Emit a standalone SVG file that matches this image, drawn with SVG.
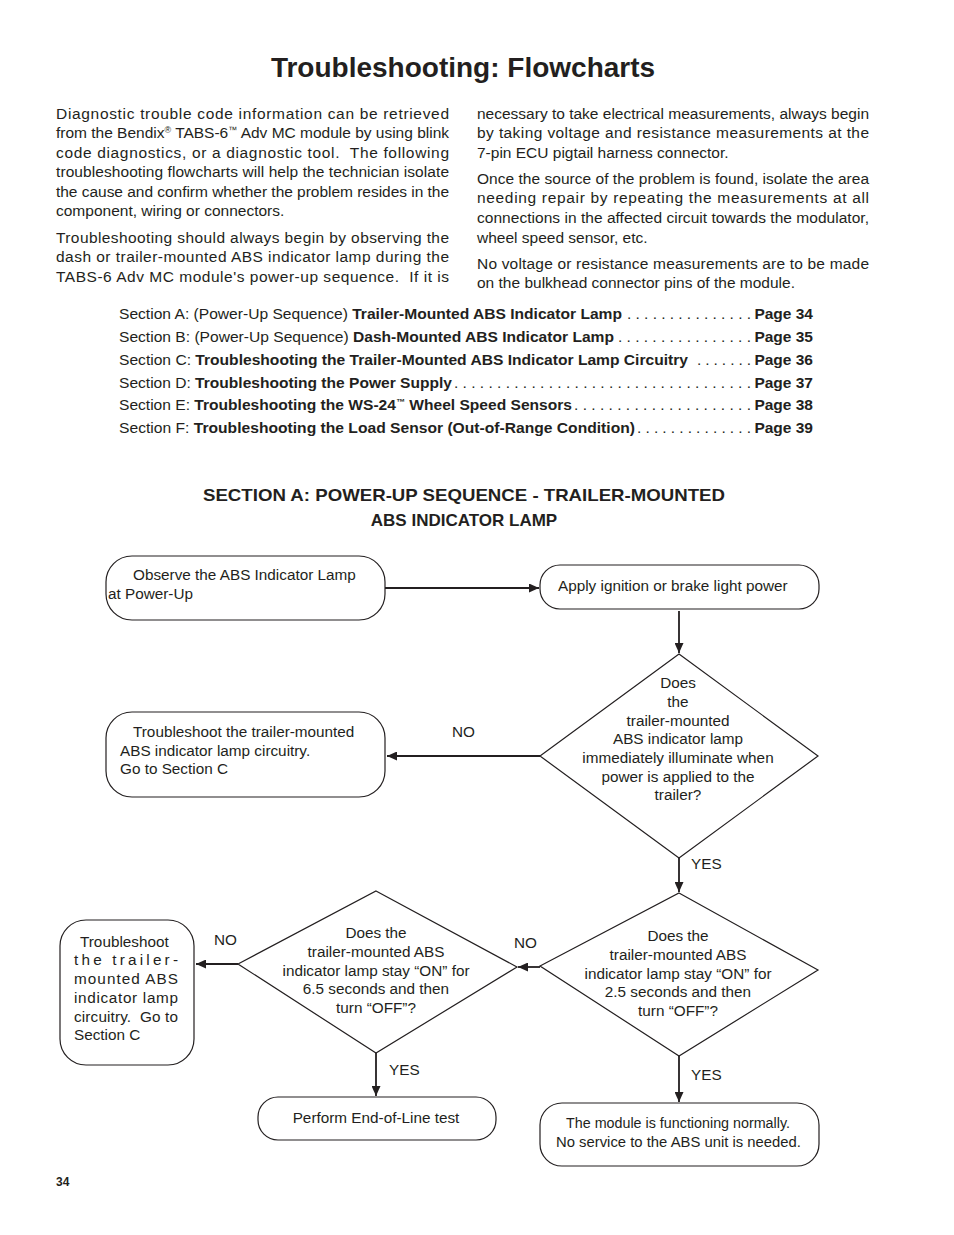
<svg xmlns="http://www.w3.org/2000/svg" width="954" height="1235" viewBox="0 0 954 1235">
<defs>
<marker id="ah" markerUnits="userSpaceOnUse" markerWidth="11" markerHeight="9" refX="10" refY="4.5" orient="auto">
<path d="M0,0 L10,4.5 L0,9 z" fill="#231f20"/>
</marker>
<style>
text{font-family:"Liberation Sans",Arial,sans-serif;fill:#231f20}
.b{font-size:15.5px}
.t{font-size:15.5px}
.f{font-size:15.3px}
.bold{font-weight:bold}
.sup{font-size:9px}
.pre{white-space:pre}
.shape{fill:#fff;stroke:#231f20;stroke-width:1.2}
.conn line{stroke:#231f20;stroke-width:1.8;marker-end:url(#ah)}
.lbl{font-size:15.3px}
</style>
</defs>
<rect width="954" height="1235" fill="#fff"/>

<text x="463" y="77" text-anchor="middle" font-size="28" font-weight="bold">Troubleshooting: Flowcharts</text>

<g id="intro-left" class="b">
<text x="56" y="119" textLength="393" lengthAdjust="spacing">Diagnostic trouble code information can be retrieved</text>
<text x="56" y="138" textLength="393" lengthAdjust="spacing">from the Bendix<tspan class="sup" dy="-5">®</tspan><tspan dy="5"> TABS-6</tspan><tspan class="sup" dy="-5">™</tspan><tspan dy="5"> Adv MC module by using blink</tspan></text>
<text x="56" y="158" class="pre" textLength="393" lengthAdjust="spacing">code diagnostics, or a diagnostic tool.  The following</text>
<text x="56" y="177" textLength="393" lengthAdjust="spacing">troubleshooting flowcharts will help the technician isolate</text>
<text x="56" y="197" textLength="393" lengthAdjust="spacing">the cause and confirm whether the problem resides in the</text>
<text x="56" y="216">component, wiring or connectors.</text>
<text x="56" y="243" textLength="393" lengthAdjust="spacing">Troubleshooting should always begin by observing the</text>
<text x="56" y="262" textLength="393" lengthAdjust="spacing">dash or trailer-mounted ABS indicator lamp during the</text>
<text x="56" y="282" class="pre" textLength="393" lengthAdjust="spacing">TABS-6 Adv MC module's power-up sequence.  If it is</text>
</g>

<g id="intro-right" class="b">
<text x="477" y="119" textLength="392" lengthAdjust="spacing">necessary to take electrical measurements, always begin</text>
<text x="477" y="138" textLength="392" lengthAdjust="spacing">by taking voltage and resistance measurements at the</text>
<text x="477" y="158">7-pin ECU pigtail harness connector.</text>
<text x="477" y="184" textLength="392" lengthAdjust="spacing">Once the source of the problem is found, isolate the area</text>
<text x="477" y="203" textLength="392" lengthAdjust="spacing">needing repair by repeating the measurements at all</text>
<text x="477" y="223" textLength="392" lengthAdjust="spacing">connections in the affected circuit towards the modulator,</text>
<text x="477" y="243">wheel speed sensor, etc.</text>
<text x="477" y="269" textLength="392" lengthAdjust="spacing">No voltage or resistance measurements are to be made</text>
<text x="477" y="288">on the bulkhead connector pins of the module.</text>
</g>

<g id="toc" class="t">
<text x="119" y="319" textLength="503" lengthAdjust="spacingAndGlyphs">Section A: (Power-Up Sequence) <tspan class="bold">Trailer-Mounted ABS Indicator Lamp</tspan></text>
<text x="627" y="319" textLength="124" lengthAdjust="spacing">. . . . . . . . . . . . . . .</text>
<text x="813" y="319" text-anchor="end" class="bold">Page 34</text>

<text x="119" y="342" textLength="495" lengthAdjust="spacingAndGlyphs">Section B: (Power-Up Sequence) <tspan class="bold">Dash-Mounted ABS Indicator Lamp</tspan></text>
<text x="618" y="342" textLength="133" lengthAdjust="spacing">. . . . . . . . . . . . . . . .</text>
<text x="813" y="342" text-anchor="end" class="bold">Page 35</text>

<text x="119" y="365" textLength="569" lengthAdjust="spacingAndGlyphs">Section C: <tspan class="bold">Troubleshooting the Trailer-Mounted ABS Indicator Lamp Circuitry</tspan></text>
<text x="697" y="365" textLength="54" lengthAdjust="spacing">. . . . . . .</text>
<text x="813" y="365" text-anchor="end" class="bold">Page 36</text>

<text x="119" y="388" textLength="333" lengthAdjust="spacingAndGlyphs">Section D: <tspan class="bold">Troubleshooting the Power Supply</tspan></text>
<text x="454" y="388" textLength="297" lengthAdjust="spacing">. . . . . . . . . . . . . . . . . . . . . . . . . . . . . . . . . . .</text>
<text x="813" y="388" text-anchor="end" class="bold">Page 37</text>

<text x="119" y="410" textLength="453" lengthAdjust="spacingAndGlyphs">Section E: <tspan class="bold">Troubleshooting the WS-24<tspan class="sup" dy="-5">™</tspan><tspan dy="5"> Wheel Speed Sensors</tspan></tspan></text>
<text x="574" y="410" textLength="177" lengthAdjust="spacing">. . . . . . . . . . . . . . . . . . . . .</text>
<text x="813" y="410" text-anchor="end" class="bold">Page 38</text>

<text x="119" y="433" textLength="516" lengthAdjust="spacingAndGlyphs">Section F: <tspan class="bold">Troubleshooting the Load Sensor (Out-of-Range Condition)</tspan></text>
<text x="637" y="433" textLength="114" lengthAdjust="spacing">. . . . . . . . . . . . . .</text>
<text x="813" y="433" text-anchor="end" class="bold">Page 39</text>
</g>

<g id="section-heading" font-weight="bold" font-size="17">
<text x="464" y="501" text-anchor="middle" textLength="522" lengthAdjust="spacingAndGlyphs">SECTION A: POWER-UP SEQUENCE - TRAILER-MOUNTED</text>
<text x="464" y="526" text-anchor="middle">ABS INDICATOR LAMP</text>
</g>

<g id="connectors" class="conn">
<line x1="385" y1="588" x2="539" y2="588"/>
<line x1="679" y1="611" x2="679" y2="653"/>
<line x1="540" y1="756" x2="387" y2="756"/>
<line x1="679" y1="858" x2="679" y2="892"/>
<line x1="540" y1="967" x2="518" y2="967"/>
<line x1="238" y1="964" x2="196" y2="964"/>
<line x1="376" y1="1053" x2="376" y2="1096"/>
<line x1="679" y1="1056" x2="679" y2="1102"/>
</g>

<g id="connector-labels" class="lbl">
<text x="452" y="737">NO</text>
<text x="691" y="869">YES</text>
<text x="514" y="948">NO</text>
<text x="214" y="945">NO</text>
<text x="389" y="1075">YES</text>
<text x="691" y="1080">YES</text>
</g>

<g id="n-observe" class="f">
<rect class="shape" x="106" y="556" width="279" height="64" rx="26" ry="26"/>
<text x="133" y="580">Observe the ABS Indicator Lamp</text>
<text x="108" y="599">at Power-Up</text>
</g>

<g id="n-apply" class="f">
<rect class="shape" x="540" y="565" width="279" height="44" rx="20" ry="20"/>
<text x="558" y="591">Apply ignition or brake light power</text>
</g>

<g id="n-diamond1" class="f" text-anchor="middle">
<polygon class="shape" points="679,654 818,756 679,858 540,756"/>
<text x="678" y="688">Does</text>
<text x="678" y="707">the</text>
<text x="678" y="726">trailer-mounted</text>
<text x="678" y="744">ABS indicator lamp</text>
<text x="678" y="763">immediately illuminate when</text>
<text x="678" y="782">power is applied to the</text>
<text x="678" y="800">trailer?</text>
</g>

<g id="n-trouble1" class="f">
<rect class="shape" x="106" y="712" width="279" height="85" rx="26" ry="26"/>
<text x="133" y="737">Troubleshoot the trailer-mounted</text>
<text x="120" y="756">ABS indicator lamp circuitry.</text>
<text x="120" y="774">Go to Section C</text>
</g>

<g id="n-diamond2" class="f" text-anchor="middle">
<polygon class="shape" points="679,893 818,970 679,1056 540,966"/>
<text x="678" y="941">Does the</text>
<text x="678" y="960">trailer-mounted ABS</text>
<text x="678" y="979">indicator lamp stay “ON” for</text>
<text x="678" y="997">2.5 seconds and then</text>
<text x="678" y="1016">turn “OFF”?</text>
</g>

<g id="n-diamond3" class="f" text-anchor="middle">
<polygon class="shape" points="376,891 517,967 376,1053 238,964"/>
<text x="376" y="938">Does the</text>
<text x="376" y="957">trailer-mounted ABS</text>
<text x="376" y="976">indicator lamp stay “ON” for</text>
<text x="376" y="994">6.5 seconds and then</text>
<text x="376" y="1013">turn “OFF”?</text>
</g>

<g id="n-trouble2" class="f">
<rect class="shape" x="60" y="920" width="134" height="145" rx="26" ry="26"/>
<text x="80" y="947">Troubleshoot</text>
<text x="74" y="965" textLength="104" lengthAdjust="spacing">the trailer-</text>
<text x="74" y="984" textLength="104" lengthAdjust="spacing">mounted ABS</text>
<text x="74" y="1003" textLength="104" lengthAdjust="spacing">indicator lamp</text>
<text x="74" y="1022" class="pre" textLength="104" lengthAdjust="spacing">circuitry.  Go to</text>
<text x="74" y="1040">Section C</text>
</g>

<g id="n-endofline" class="f">
<rect class="shape" x="258" y="1097" width="238" height="43" rx="20" ry="20"/>
<text x="376" y="1123" text-anchor="middle">Perform End-of-Line test</text>
</g>

<g id="n-normal" class="f">
<rect class="shape" x="540" y="1103" width="279" height="63" rx="22" ry="22"/>
<text x="566" y="1128" textLength="224" lengthAdjust="spacingAndGlyphs">The module is functioning normally.</text>
<text x="556" y="1147" textLength="245" lengthAdjust="spacingAndGlyphs">No service to the ABS unit is needed.</text>
</g>

<text x="56" y="1186" font-size="12" font-weight="bold">34</text>
</svg>
